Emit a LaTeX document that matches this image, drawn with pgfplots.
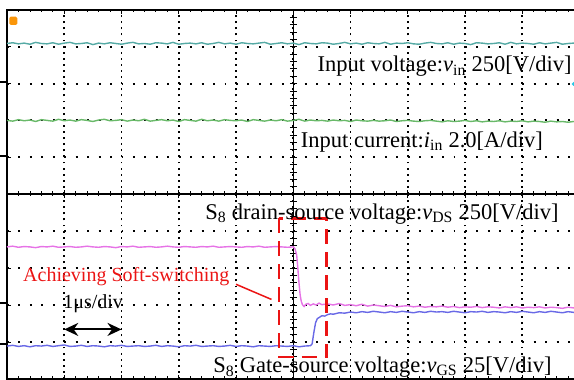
\documentclass[border=0pt]{standalone}
\usepackage{pgfplots}
\pgfplotsset{compat=1.18}
\usepackage{fontspec}
\setmainfont{Liberation Serif}
\usetikzlibrary{arrows.meta}
\definecolor{vinc}{RGB}{85,170,165}
\definecolor{iinc}{RGB}{105,185,105}
\definecolor{vdsc}{RGB}{230,115,230}
\definecolor{vgsc}{RGB}{105,105,230}
\definecolor{redc}{RGB}{235,20,20}
\definecolor{orangec}{RGB}{250,150,10}
\definecolor{cyanc}{RGB}{40,200,230}
\tikzset{lab/.style={font=\fontsize{22.5}{22.5}\selectfont, inner sep=0pt}}
\pgfplotsset{
  scopepanel/.style={
    scale only axis, width=572.5pt,
    xmin=0, xmax=10, ymin=0, ymax=5,
    xtick={0,...,10}, ytick={0,...,5},
    minor x tick num=4,
    xticklabels={}, yticklabels={},
    tick align=inside,
    major tick length=4pt, minor tick length=2.5pt,
    tick style={black, line width=0.8pt},
    axis line style={black, line width=1.5pt},
    grid=major,
    major x grid style={black, line width=1.9pt, dash pattern=on 1.9pt off 4.2pt},
    major y grid style={black, line width=1.9pt, dash pattern=on 1.9pt off 9.55pt},
    clip=false,
  },
}
\begin{document}
\begin{tikzpicture}[x=1pt,y=1pt]
\useasboundingbox (0,0) rectangle (574,380);
\clip (0,0) rectangle (574,380);
% top panel
\begin{axis}[scopepanel, at={(7pt,186pt)}, anchor=south west, height=184pt]
\draw[black, line width=1.5pt] (axis cs:5,0) -- (axis cs:5,5);
\pgfplotsinvokeforeach{0.2,0.4,...,4.9}{\draw[black,line width=0.8pt] (axis cs:4.94,#1) -- (axis cs:5.06,#1);}
\addplot[vinc, line width=1.4pt] coordinates {
(0.0,4.09)(0.1,4.11)(0.2,4.08)(0.3,4.10)(0.4,4.07)(0.5,4.12)(0.6,4.09)(0.7,4.08)(0.8,4.11)(0.9,4.07)
(1.0,4.10)(1.1,4.12)(1.2,4.08)(1.3,4.09)(1.4,4.11)(1.5,4.06)(1.6,4.10)(1.7,4.08)(1.8,4.11)(1.9,4.09)
(2.0,4.07)(2.1,4.10)(2.2,4.12)(2.3,4.08)(2.4,4.09)(2.5,4.07)(2.6,4.11)(2.7,4.10)(2.8,4.08)(2.9,4.12)
(3.0,4.07)(3.1,4.09)(3.2,4.10)(3.3,4.08)(3.4,4.11)(3.5,4.07)(3.6,4.09)(3.7,4.12)(3.8,4.08)(3.9,4.10)
(4.0,4.07)(4.1,4.11)(4.2,4.09)(4.3,4.08)(4.4,4.10)(4.5,4.12)(4.6,4.07)(4.7,4.09)(4.8,4.11)(4.9,4.08)
(5.0,4.10)(5.1,4.06)(5.2,4.11)(5.3,4.09)(5.4,4.08)(5.5,4.11)(5.6,4.10)(5.7,4.07)(5.8,4.09)(5.9,4.12)
(6.0,4.08)(6.1,4.10)(6.2,4.07)(6.3,4.11)(6.4,4.09)(6.5,4.08)(6.6,4.12)(6.7,4.07)(6.8,4.10)(6.9,4.09)
(7.0,4.11)(7.1,4.08)(7.2,4.07)(7.3,4.10)(7.4,4.12)(7.5,4.09)(7.6,4.08)(7.7,4.11)(7.8,4.07)(7.9,4.10)
(8.0,4.09)(8.1,4.06)(8.2,4.11)(8.3,4.10)(8.4,4.08)(8.5,4.09)(8.6,4.11)(8.7,4.07)(8.8,4.12)(8.9,4.08)
(9.0,4.10)(9.1,4.09)(9.2,4.07)(9.3,4.11)(9.4,4.08)(9.5,4.10)(9.6,4.12)(9.7,4.07)(9.8,4.09)(9.9,4.10)(10.0,4.08)};
\addplot[iinc, line width=1.4pt] coordinates {
(0.0,2.00)(0.1,1.98)(0.2,2.02)(0.3,1.99)(0.4,2.01)(0.5,1.97)(0.6,2.02)(0.7,2.00)(0.8,1.98)(0.9,2.03)
(1.0,1.99)(1.1,2.01)(1.2,1.98)(1.3,2.02)(1.4,2.00)(1.5,1.97)(1.6,2.01)(1.7,2.03)(1.8,1.99)(1.9,2.00)
(2.0,2.02)(2.1,1.98)(2.2,2.01)(2.3,1.99)(2.4,2.03)(2.5,1.98)(2.6,2.00)(2.7,2.02)(2.8,1.99)(2.9,2.01)
(3.0,1.97)(3.1,2.02)(3.2,2.00)(3.3,1.98)(3.4,2.03)(3.5,1.99)(3.6,2.01)(3.7,1.98)(3.8,2.02)(3.9,2.00)
(4.0,1.99)(4.1,2.01)(4.2,1.97)(4.3,2.02)(4.4,2.00)(4.5,1.98)(4.6,2.01)(4.7,1.99)(4.8,2.02)(4.9,1.98)
(5.0,2.00)(5.1,2.03)(5.2,1.98)(5.3,2.01)(5.4,1.99)(5.5,2.00)(5.6,1.98)(5.7,2.01)(5.8,1.99)(5.9,2.00)
(6.0,1.97)(6.1,2.01)(6.2,1.99)(6.3,1.98)(6.4,2.00)(6.5,1.98)(6.6,1.99)(6.7,2.01)(6.8,1.97)(6.9,1.99)
(7.0,2.00)(7.1,1.98)(7.2,1.97)(7.3,1.99)(7.4,2.00)(7.5,1.98)(7.6,1.96)(7.7,1.99)(7.8,1.97)(7.9,1.98)
(8.0,2.00)(8.1,1.97)(8.2,1.99)(8.3,1.96)(8.4,1.98)(8.5,1.97)(8.6,1.99)(8.7,1.96)(8.8,1.98)(8.9,1.97)
(9.0,1.99)(9.1,1.96)(9.2,1.98)(9.3,1.97)(9.4,1.95)(9.5,1.98)(9.6,1.96)(9.7,1.97)(9.8,1.95)(9.9,1.97)(10.0,1.96)};
\node[lab, anchor=base east] at (axis cs:9.864,3.32) {Input voltage:\textit{v}\textsubscript{in} 250[V/div]};
\node[lab, anchor=base west] at (axis cs:5.13,1.26) {Input current:\textit{i}\textsubscript{in} 2.0[A/div]};
\end{axis}
% bottom panel
\begin{axis}[scopepanel, at={(7pt,1pt)}, anchor=south west, height=185pt]
\draw[black, line width=1.5pt] (axis cs:5,0) -- (axis cs:5,5);
\pgfplotsinvokeforeach{0.2,0.4,...,4.9}{\draw[black,line width=0.8pt] (axis cs:4.94,#1) -- (axis cs:5.06,#1);}
\addplot[vdsc, line width=1.4pt] coordinates {
(0.0,3.57)(0.1,3.59)(0.2,3.56)(0.3,3.58)(0.4,3.57)(0.5,3.55)(0.6,3.58)(0.7,3.57)(0.8,3.59)(0.9,3.56)
(1.0,3.57)(1.1,3.58)(1.2,3.56)(1.3,3.57)(1.4,3.59)(1.5,3.57)(1.6,3.56)(1.7,3.58)(1.8,3.57)(1.9,3.55)
(2.0,3.58)(2.1,3.57)(2.2,3.59)(2.3,3.56)(2.4,3.57)(2.5,3.58)(2.6,3.56)(2.7,3.57)(2.8,3.59)(2.9,3.57)
(3.0,3.56)(3.1,3.58)(3.2,3.57)(3.3,3.56)(3.4,3.58)(3.5,3.57)(3.6,3.59)(3.7,3.56)(3.8,3.57)(3.9,3.58)
(4.0,3.57)(4.1,3.56)(4.2,3.58)(4.3,3.57)(4.4,3.59)(4.5,3.56)(4.6,3.57)(4.7,3.58)(4.8,3.57)(4.9,3.56)
(5.0,3.57)(5.03,3.52)(5.06,3.35)(5.08,3.00)(5.10,2.60)(5.12,2.28)(5.14,2.10)(5.16,2.01)(5.19,1.96)
(5.22,2.02)(5.26,2.04)(5.30,1.99)(5.35,2.03)(5.40,2.00)(5.45,2.05)(5.5,2.01)(5.6,2.03)(5.7,2.00)(5.8,2.04)(5.9,1.99)
(6.0,2.01)(6.1,1.98)(6.2,2.02)(6.3,1.97)(6.4,2.00)(6.5,1.98)(6.6,1.96)(6.7,1.99)(6.8,1.95)(6.9,1.97)
(7.0,1.98)(7.1,1.95)(7.2,1.97)(7.3,1.94)(7.4,1.96)(7.5,1.95)(7.6,1.97)(7.7,1.94)(7.8,1.96)(7.9,1.93)
(8.0,1.95)(8.1,1.94)(8.2,1.96)(8.3,1.93)(8.4,1.95)(8.5,1.94)(8.6,1.92)(8.7,1.95)(8.8,1.93)(8.9,1.95)
(9.0,1.92)(9.1,1.94)(9.2,1.93)(9.3,1.95)(9.4,1.92)(9.5,1.94)(9.6,1.93)(9.7,1.91)(9.8,1.94)(9.9,1.92)(10.0,1.93)};
\addplot[vgsc, line width=1.4pt] coordinates {
(0.0,0.89)(0.1,0.91)(0.2,0.88)(0.3,0.90)(0.4,0.87)(0.5,0.90)(0.6,0.89)(0.7,0.91)(0.8,0.88)(0.9,0.90)
(1.0,0.92)(1.1,0.88)(1.2,0.89)(1.3,0.91)(1.4,0.88)(1.5,0.90)(1.6,0.89)(1.7,0.87)(1.8,0.90)(1.9,0.89)
(2.0,0.91)(2.1,0.88)(2.2,0.89)(2.3,0.90)(2.4,0.88)(2.5,0.89)(2.6,0.91)(2.7,0.88)(2.8,0.90)(2.9,0.89)
(3.0,0.87)(3.1,0.90)(3.2,0.89)(3.3,0.91)(3.4,0.88)(3.5,0.89)(3.6,0.90)(3.7,0.88)(3.8,0.89)(3.9,0.91)
(4.0,0.88)(4.1,0.90)(4.2,0.89)(4.3,0.87)(4.4,0.90)(4.5,0.89)(4.6,0.88)(4.7,0.90)(4.8,0.89)(4.9,0.88)
(5.0,0.90)(5.1,0.87)(5.2,0.89)(5.3,0.90)(5.33,0.95)(5.36,1.26)(5.39,1.52)(5.42,1.63)(5.46,1.67)(5.5,1.71)
(5.55,1.70)(5.6,1.74)(5.65,1.76)(5.7,1.75)(5.8,1.79)(5.9,1.78)
(6.0,1.81)(6.1,1.79)(6.2,1.82)(6.3,1.80)(6.4,1.83)(6.5,1.81)(6.6,1.79)(6.7,1.82)(6.8,1.80)(6.9,1.83)
(7.0,1.81)(7.1,1.79)(7.2,1.82)(7.3,1.80)(7.4,1.83)(7.5,1.81)(7.6,1.82)(7.7,1.80)(7.8,1.83)(7.9,1.81)
(8.0,1.79)(8.1,1.82)(8.2,1.81)(8.3,1.83)(8.4,1.80)(8.5,1.82)(8.6,1.81)(8.7,1.79)(8.8,1.82)(8.9,1.80)
(9.0,1.83)(9.1,1.81)(9.2,1.79)(9.3,1.82)(9.4,1.80)(9.5,1.83)(9.6,1.81)(9.7,1.79)(9.8,1.82)(9.9,1.80)(10.0,1.81)};
\draw[redc, line width=2.3pt, dash pattern=on 15pt off 8pt] (axis cs:4.75,4.34) rectangle (axis cs:5.58,0.60);
\draw[redc, line width=1.5pt] (axis cs:4.0,2.56) -- (axis cs:4.62,2.15);
\node[anchor=base west, inner sep=0pt, text=redc, font=\fontsize{20}{20}\selectfont] at (axis cs:0.28,2.63) {Achieving Soft-switching};
\node[anchor=base west, inner sep=0pt, font=\fontsize{20}{20}\selectfont] at (axis cs:0.98,1.91) {1μs/div};
\draw[{Stealth[length=14pt,width=13pt]}-{Stealth[length=14pt,width=13pt]}, line width=2pt] (axis cs:1.0,1.34) -- (axis cs:2.0,1.34);
\node[lab, anchor=base west] at (axis cs:3.46,4.32) {S\textsubscript{8} drain-source voltage:\textit{v}\textsubscript{DS} 250[V/div]};
\node[lab, anchor=base west] at (axis cs:3.6,0.17) {S\textsubscript{8} Gate-source voltage:\textit{v}\textsubscript{GS} 25[V/div]};
\end{axis}
% channel markers
\draw[black, line width=1.8pt] (0,298.3) -- (7,298.3);
\draw[black, line width=1.8pt] (0,224) -- (7,224);
\draw[black, line width=1.8pt] (0,77) -- (7,77);
\draw[black, line width=1.8pt] (0,36) -- (7,36);
\fill[orangec, rounded corners=1.5pt] (9.3,355) rectangle (17.3,363.3);
\fill[cyanc] (571.5,296) -- (576,300) -- (576,292) -- cycle;
\end{tikzpicture}
\end{document}
